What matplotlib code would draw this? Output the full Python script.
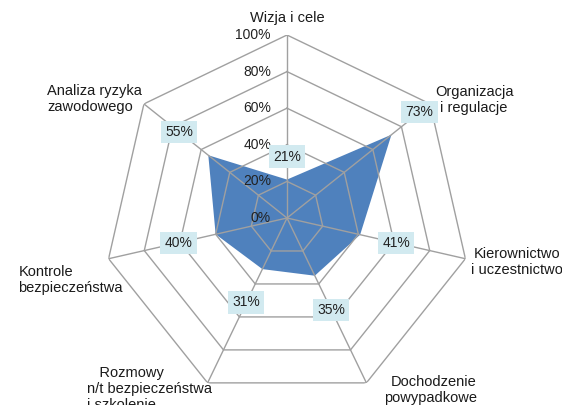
import numpy as np
import matplotlib
matplotlib.use('Agg')
import matplotlib.pyplot as plt

# chart data
categories = ['Wizja i cele', 'Organizacja\ni regulacje', 'Kierownictwo\ni uczestnictwo',
              'Dochodzenie\npowypadkowe', '   Rozmowy\nn/t bezpieczeństwa\ni szkolenie',
              'Kontrole\nbezpieczeństwa', 'Analiza ryzyka\nzawodowego']
values = [21, 73, 41, 35, 31, 40, 55]
levels = [0, 20, 40, 60, 80, 100]

# label layout (pixel offsets from the outer vertex, text alignment)
cat_layout = [(0, -17, 'center', 'center'), (44, -4, 'center', 'center'),
              (52, 3, 'center', 'center'), (64, 7, 'right', 'center'),
              (-58, 6, 'left', 'center'), (-38, 21, 'left', 'center'),
              (-49, -5, 'left', 'center')]
label_gap = [23, 36, 37, 38, 37, 38, 37]

plt.rcParams['font.family'] = ['Liberation Sans', 'DejaVu Sans']

W, H = 562, 405
cx, cy, R = 287, 218, 183
fig = plt.figure(figsize=(W / 100, H / 100), dpi=100)
ax = fig.add_axes([(cx - R) / W, (H - cy - R) / H, 2 * R / W, 2 * R / H], polar=True)
ax.set_theta_zero_location('N')
ax.set_theta_direction(-1)
ax.set_ylim(0, 100)
ax.grid(False)
ax.spines['polar'].set_visible(False)
ax.set_xticks([])
ax.set_yticks([])
ax.patch.set_visible(False)

n = len(categories)
angles = np.arange(n) * 2 * np.pi / n
closed = np.append(angles, angles[0])

ax.fill(closed, values + values[:1], color='#4F81BD', lw=0, zorder=2)

grid_col = '#A0A0A0'
for lv in levels[1:]:
    ax.plot(closed, [lv] * (n + 1), color=grid_col, lw=1, zorder=3)
for a in angles:
    ax.plot([a, a], [0, 100], color=grid_col, lw=1, zorder=3)

for lv in levels:
    ax.annotate(f'{lv}%', xy=(0, lv), xytext=(-16, 0), textcoords='offset pixels',
                ha='right', va='center', fontsize=10, color='#222222',
                annotation_clip=False, zorder=5)

for a, name, (dx, dy, ma, va) in zip(angles, categories, cat_layout):
    ax.annotate(name, xy=(a, 100), xytext=(dx, -dy), textcoords='offset pixels',
                ha='center', va=va, multialignment=ma, fontsize=10.5,
                color='#1a1a1a', annotation_clip=False, linespacing=1.15)

for a, v, g in zip(angles, values, label_gap):
    ax.annotate(f'{v}%', xy=(a, v), xytext=(g * np.sin(a), g * np.cos(a)),
                textcoords='offset pixels', ha='center', va='center',
                fontsize=10, color='#222222', annotation_clip=False, zorder=6,
                bbox=dict(boxstyle='square,pad=0.3', fc='#D2EAF0', ec='none'))

fig.savefig('out.png', dpi=100)
